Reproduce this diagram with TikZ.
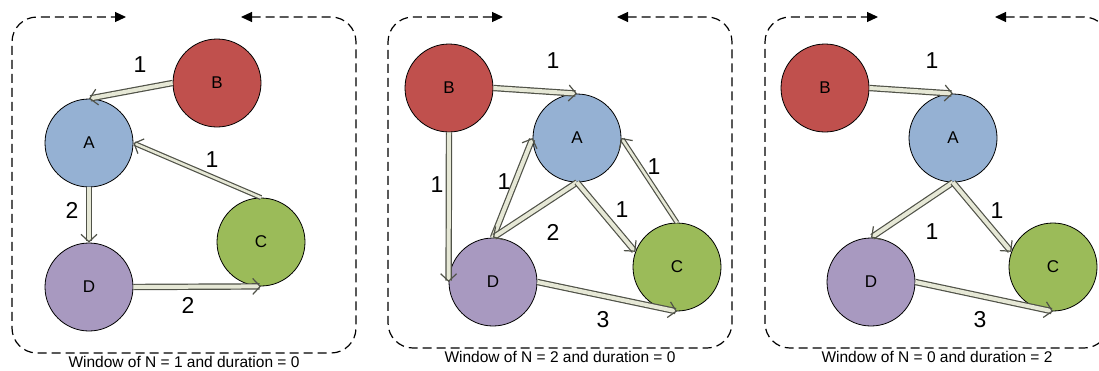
\documentclass[tikz,border=0pt]{standalone}
\usepackage{fontspec}
\setmainfont{Liberation Sans}
\usetikzlibrary{arrows.meta}
\definecolor{nodeB}{HTML}{C0504D}
\definecolor{nodeA}{HTML}{95B1D3}
\definecolor{nodeC}{HTML}{9BBB59}
\definecolor{nodeD}{HTML}{A899C0}
\definecolor{linkfill}{HTML}{E6E8D6}
\definecolor{linkedge}{HTML}{505248}

\begin{document}
\begin{tikzpicture}[
    x=1pt, y=-1pt,
    vert/.style={circle, draw=black, line width=0.8pt, minimum size=88pt,
                 inner sep=0pt, font=\fontsize{17}{19}\selectfont},
    link/.style={draw=linkedge, line width=1.2pt, double=linkfill,
                 double distance=4pt,
                 -{Straight Barb[length=7.5pt,width=16pt]}},
    thinlink/.style={link, double distance=2.6pt},
    wt/.style={font=\fontsize{23}{26}\selectfont, inner sep=0pt},
    winframe/.style={dash pattern=on 9pt off 5pt, line width=1.2pt,
                     rounded corners=25pt,
                     {Triangle[length=11pt,width=10pt]}-{Triangle[length=11pt,width=10pt]}},
    caption/.style={font=\fontsize{15.5}{18}\selectfont, inner sep=0pt},
]
\useasboundingbox (0,0) rectangle (1099,370);

% ── window frames ──
\foreach \ox/\yb/\xl/\xr/\nv/\dv [count=\i] in
    {12/353/114/229/1/0, 388/348/115/229/2/0, 765/348/113/230/0/2} {
  \begin{scope}[shift={(\ox,0)}]
    \draw[winframe] (\xr,17) -- (344,17) -- (344,\yb) -- (0,\yb)
                    -- (0,17) -- (\xl,17);
    \node[caption] (cap\i) at (172,\yb+9)
        {Window of N = \nv{} and duration = \dv};
  \end{scope}
}

% ── N = 1 ──
\begin{scope}[shift={(12,0)}]
\node[vert, fill=nodeB] (b1) at (205,83) {B};
\node[vert, fill=nodeA] (a1) at (77,143) {A};
\node[vert, fill=nodeD] (d1) at (77,287) {D};
\node[vert, fill=nodeC] (c1) at (249,242) {C};

\draw[link] (b1.west) -- (a1.north);
\draw[thinlink] (c1.north) -- (a1.east);
\draw[link] (a1.south) -- (d1.north);
\draw[link] (d1.east) -- (c1.south);

\node[wt] (w1ba) at (128,65) {1};
\node[wt] (w1ca) at (200,160) {1};
\node[wt] (w1ad) at (60,210) {2};
\node[wt] (w1dc) at (176,305) {2};
\end{scope}

% ── N = 2 ──
\begin{scope}[shift={(388,0)}]
\node[vert, fill=nodeB] (b2) at (61,88) {B};
\node[vert, fill=nodeA] (a2) at (189,138) {A};
\node[vert, fill=nodeD] (d2) at (105,282) {D};
\node[vert, fill=nodeC] (c2) at (289,267) {C};

\draw[link] (b2.east) -- (a2.north);
\draw[link] (b2.south) -- (d2.west);
\draw[link] (d2.north) -- (a2.west);
\draw[link] (a2.south) -- (d2.north);
\draw[link] (a2.south) -- (c2.160);
\draw[thinlink] (c2.north) -- (a2.east);
\draw[link] (d2.east) -- (c2.south);

\node[wt] (w2ba) at (165,61) {1};
\node[wt] (w2bd) at (49,185) {1};
\node[wt] (w2da) at (116,182) {1};
\node[wt] (w2ad) at (165,232) {2};
\node[wt] (w2ac) at (234,210) {1};
\node[wt] (w2ca) at (266,167) {1};
\node[wt] (w2dc) at (215,320) {3};
\end{scope}

% ── duration = 2 ──
\begin{scope}[shift={(765,0)}]
\node[vert, fill=nodeB] (b3) at (60,88) {B};
\node[vert, fill=nodeA] (a3) at (188,138) {A};
\node[vert, fill=nodeD] (d3) at (106,282) {D};
\node[vert, fill=nodeC] (c3) at (288,267) {C};

\draw[link] (b3.east) -- (a3.north);
\draw[link] (a3.south) -- (d3.north);
\draw[link] (a3.south) -- (c3.160);
\draw[link] (d3.east) -- (c3.south);

\node[wt] (w3ba) at (167,61) {1};
\node[wt] (w3ad) at (167,232) {1};
\node[wt] (w3ac) at (232,211) {1};
\node[wt] (w3dc) at (215,320) {3};
\end{scope}

\end{tikzpicture}
\end{document}
